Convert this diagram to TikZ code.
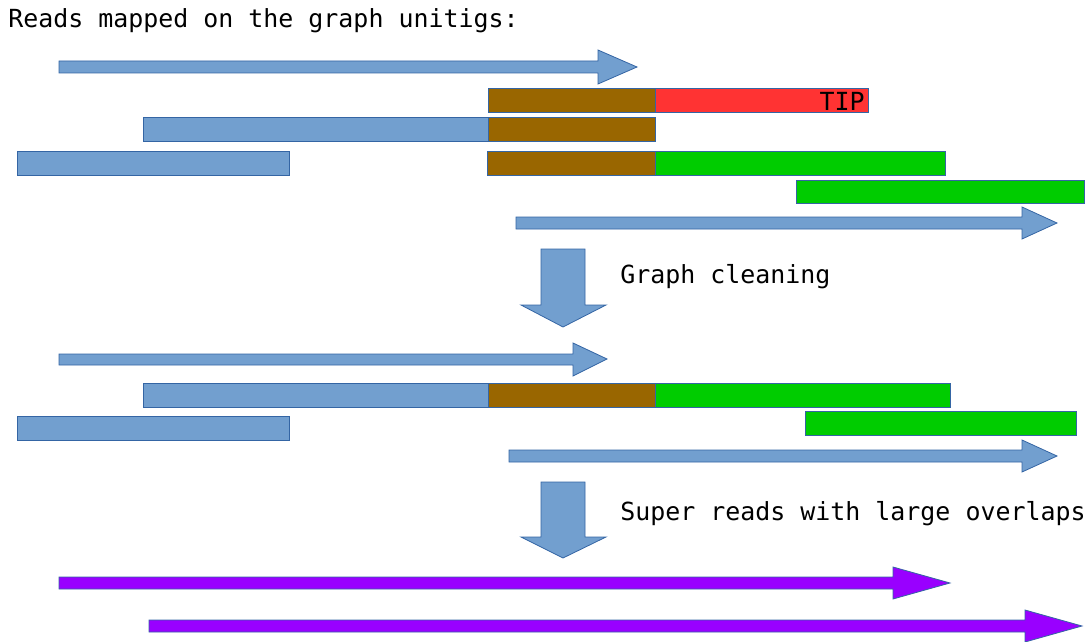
\documentclass[tikz,border=0pt]{standalone}
\usepackage{fontspec}
\setmonofont{DejaVu Sans Mono}
\usepackage{xcolor}
\definecolor{readblue}{HTML}{729FCF}
\definecolor{readedge}{HTML}{3465A4}
\definecolor{sharedbrown}{HTML}{996600}
\definecolor{tipred}{HTML}{FF3333}
\definecolor{pathgreen}{HTML}{00CC00}
\definecolor{superpurple}{HTML}{9900FF}

\tikzset{
  blueread/.style={draw=readedge, fill=readblue, line width=0.6pt},
  brownpart/.style={draw=readedge, fill=sharedbrown, line width=0.6pt},
  redpart/.style={draw=readedge, fill=tipred, line width=0.6pt},
  greenpart/.style={draw=readedge, fill=pathgreen, line width=0.6pt},
  purpleread/.style={draw=readedge, fill=superpurple, line width=0.6pt},
  label/.style={font=\ttfamily\fontsize{18.7}{22}\selectfont, inner sep=0pt}
}

\begin{document}
\begin{tikzpicture}[x=0.75pt, y=-0.75pt]
     \useasboundingbox (0,0) rectangle (1085,642);

     \node[label, anchor=west] (title) at (8, 21) {Reads mapped on the graph unitigs:};

     % reads before cleaning
     \draw[blueread] (59,61) -- (598,61) -- (598,50) -- (637,67) -- (598,84) -- (598,73) -- (59,73) -- cycle;
     \draw[brownpart] (488,88) rectangle (655,112);
     \draw[redpart] (655,88) rectangle (868,112);
     \node[label, anchor=east] (tip) at (865, 101) {TIP};
     \draw[blueread] (143,117) rectangle (488,141);
     \draw[brownpart] (488,117) rectangle (655,141);
     \draw[blueread] (17,151) rectangle (289,175);
     \draw[brownpart] (487,151) rectangle (655,175);
     \draw[greenpart] (655,151) rectangle (945,175);
     \draw[greenpart] (796,180) rectangle (1084,203);
     \draw[blueread] (516,217) -- (1022,217) -- (1022,207) -- (1057,223) -- (1022,239) -- (1022,229) -- (516,229) -- cycle;

     \draw[blueread] (541,249) -- (585,249) -- (585,305) -- (606,305) -- (563,327) -- (521,305) -- (541,305) -- cycle;
     \node[label, anchor=west] (cleaning) at (620, 277) {Graph cleaning};

     % reads after cleaning
     \draw[blueread] (59,354) -- (573,354) -- (573,343) -- (607,359) -- (573,376) -- (573,365) -- (59,365) -- cycle;
     \draw[blueread] (143,383) rectangle (488,407);
     \draw[brownpart] (488,383) rectangle (655,407);
     \draw[greenpart] (655,383) rectangle (950,407);
     \draw[blueread] (17,416) rectangle (289,440);
     \draw[greenpart] (805,411) rectangle (1076,435);
     \draw[blueread] (509,450) -- (1022,450) -- (1022,440) -- (1057,456) -- (1022,472) -- (1022,462) -- (509,462) -- cycle;

     \draw[blueread] (541,482) -- (585,482) -- (585,537) -- (606,537) -- (563,558) -- (521,537) -- (541,537) -- cycle;
     \node[label, anchor=west] (superreads) at (620, 514) {Super reads with large overlaps};

     % super reads
     \draw[purpleread] (59,577) -- (893,577) -- (893,567) -- (950,583) -- (893,599) -- (893,589) -- (59,589) -- cycle;
     \draw[purpleread] (149,620) -- (1025,620) -- (1025,610) -- (1082,626) -- (1025,642) -- (1025,632) -- (149,632) -- cycle;
   \end{tikzpicture}
\end{document}
